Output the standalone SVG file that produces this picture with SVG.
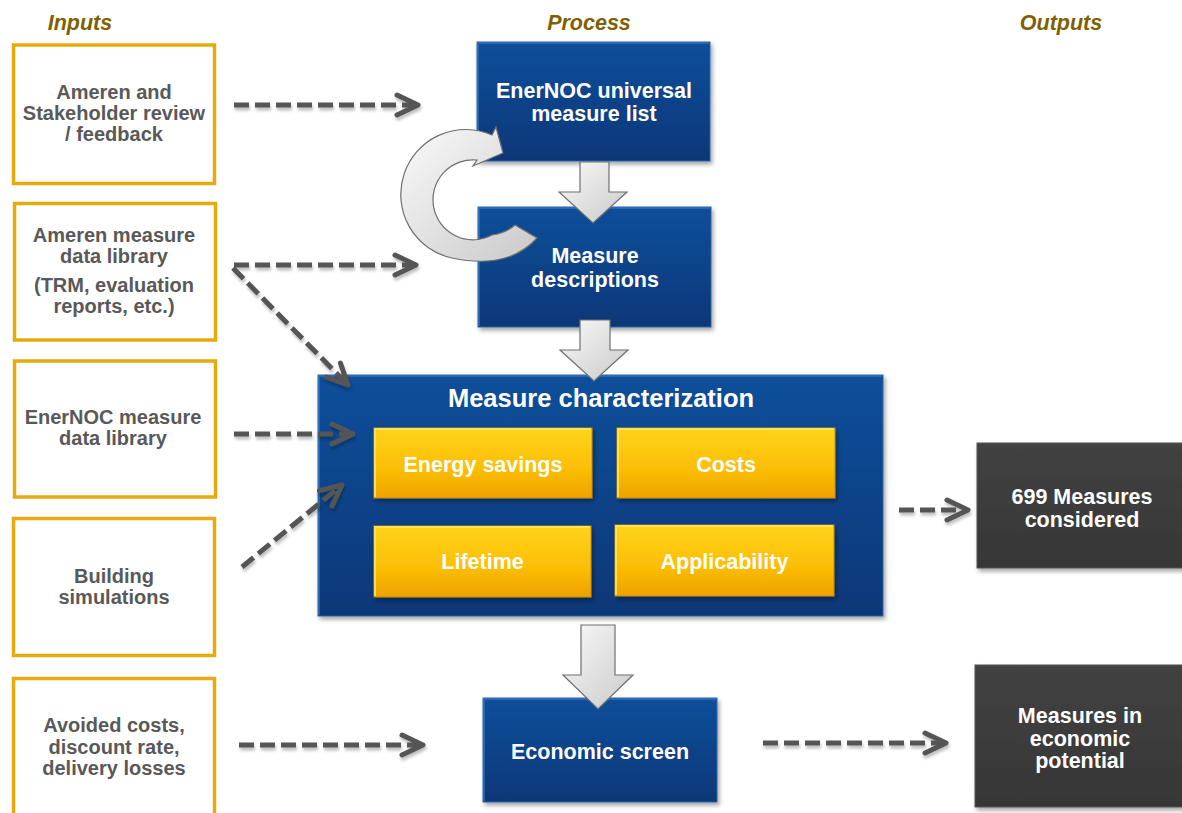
<svg xmlns="http://www.w3.org/2000/svg" width="1182" height="813" viewBox="0 0 1182 813">
<defs>
  <linearGradient id="gBlue" x1="0" y1="0" x2="0" y2="1">
    <stop offset="0" stop-color="#0d4f9b"/>
    <stop offset="1" stop-color="#073777"/>
  </linearGradient>
  <linearGradient id="gGold" x1="0" y1="0" x2="0" y2="1">
    <stop offset="0" stop-color="#ffd41c"/>
    <stop offset="0.6" stop-color="#fbbd05"/>
    <stop offset="1" stop-color="#eea200"/>
  </linearGradient>
  <linearGradient id="gDark" x1="0" y1="0" x2="0" y2="1">
    <stop offset="0" stop-color="#424242"/>
    <stop offset="1" stop-color="#363636"/>
  </linearGradient>
  <linearGradient id="gGray" x1="0" y1="0" x2="1" y2="1">
    <stop offset="0" stop-color="#fafafa"/>
    <stop offset="1" stop-color="#c9c9c9"/>
  </linearGradient>
  <filter id="shadow" x="-10%" y="-10%" width="125%" height="130%">
    <feDropShadow dx="2" dy="3" stdDeviation="2" flood-color="#000" flood-opacity="0.35"/>
  </filter>
  <filter id="lshadow" filterUnits="userSpaceOnUse" x="0" y="0" width="1182" height="813">
    <feDropShadow dx="1" dy="3" stdDeviation="1.5" flood-color="#000" flood-opacity="0.25"/>
  </filter>
  <marker id="chev" markerUnits="userSpaceOnUse" viewBox="-26 -14 30 28" markerWidth="30" markerHeight="28" refX="0" refY="0" orient="auto" overflow="visible">
    <path d="M-21,-10 L0,0 L-21,10" fill="none" stroke="#555555" stroke-width="5" stroke-linecap="round" stroke-linejoin="round"/>
  </marker>
  <style>
    .title{font-family:"Liberation Sans",Arial,sans-serif;font-weight:bold;font-style:italic;font-size:21.5px;fill:#7f6000;text-anchor:middle}
    .inbox{fill:#ffffff;stroke:#e6aa0e;stroke-width:3.5}
    .intext{font-family:"Liberation Sans",Arial,sans-serif;font-weight:bold;font-size:20px;fill:#595959;text-anchor:middle}
    .blue{fill:url(#gBlue);stroke:#2a64aa;stroke-width:1;filter:url(#shadow)}
    .gold{fill:url(#gGold);stroke:#c88f00;stroke-width:1;filter:url(#shadow)}
    .dark{fill:url(#gDark);stroke:#555555;stroke-width:1;filter:url(#shadow)}
    .wtext{font-family:"Liberation Sans",Arial,sans-serif;font-weight:bold;font-size:21.5px;fill:#ffffff;text-anchor:middle}
    .bevelB{fill:none;stroke:#3a78c0;stroke-width:2;opacity:0.6}
    .bevelG{fill:none;stroke:#ffe866;stroke-width:2;opacity:0.8}
    .dash{fill:none;stroke:#555555;stroke-width:5;stroke-dasharray:15 6;marker-end:url(#chev)}
    .block{fill:url(#gGray);stroke:#6f6f6f;stroke-width:1.2;stroke-linejoin:miter}
  </style>
</defs>
<rect x="0" y="0" width="1182" height="813" fill="#ffffff"/>

<g id="titles">
  <text class="title" x="80" y="30">Inputs</text>
  <text class="title" x="589" y="30">Process</text>
  <text class="title" x="1061" y="30">Outputs</text>
</g>

<g id="in1">
  <rect class="inbox" x="13.5" y="45" width="201" height="138.5"/>
  <text class="intext" x="114" y="98.7">Ameren and</text>
  <text class="intext" x="114" y="119.5">Stakeholder review</text>
  <text class="intext" x="114" y="141">/ feedback</text>
</g>
<g id="in2">
  <rect class="inbox" x="14.5" y="203.5" width="201" height="136.5"/>
  <text class="intext" x="114" y="241.7">Ameren measure</text>
  <text class="intext" x="114" y="262.7">data library</text>
  <text class="intext" x="114" y="292">(TRM, evaluation</text>
  <text class="intext" x="114" y="313">reports, etc.)</text>
</g>
<g id="in3">
  <rect class="inbox" x="14.5" y="361" width="201" height="136"/>
  <text class="intext" x="113" y="424">EnerNOC measure</text>
  <text class="intext" x="113" y="445">data library</text>
</g>
<g id="in4">
  <rect class="inbox" x="13.5" y="518.5" width="201" height="137"/>
  <text class="intext" x="114" y="583">Building</text>
  <text class="intext" x="114" y="604">simulations</text>
</g>
<g id="in5">
  <rect class="inbox" x="13.5" y="678.5" width="201" height="150"/>
  <text class="intext" x="114" y="732">Avoided costs,</text>
  <text class="intext" x="114" y="753.5">discount rate,</text>
  <text class="intext" x="114" y="775">delivery losses</text>
</g>

<g id="p_list">
  <rect class="blue" x="477" y="42" width="233" height="119"/>
  <path class="bevelB" d="M478,160 L478,43 L709,43"/>
  <text class="wtext" x="594" y="98.3">EnerNOC universal</text>
  <text class="wtext" x="594" y="120.7">measure list</text>
</g>
<g id="p_desc">
  <rect class="blue" x="478" y="207" width="233" height="120"/>
  <path class="bevelB" d="M479,326 L479,208 L710,208"/>
  <text class="wtext" x="595" y="263.3">Measure</text>
  <text class="wtext" x="595" y="286.5">descriptions</text>
</g>
<g id="p_char">
  <rect class="blue" x="318" y="375" width="565" height="241"/>
  <path class="bevelB" d="M319,615 L319,376 L882,376"/>
  <text class="wtext" x="601" y="406.7" style="font-size:25.5px">Measure characterization</text>
  <g id="c_energy">
    <rect class="gold" x="374" y="428" width="218" height="70"/>
    <path class="bevelG" d="M375,497 L375,429 L591,429"/>
    <text class="wtext" x="483" y="471.7">Energy savings</text>
  </g>
  <g id="c_costs">
    <rect class="gold" x="617" y="428" width="218" height="70"/>
    <path class="bevelG" d="M618,497 L618,429 L834,429"/>
    <text class="wtext" x="726" y="471.7">Costs</text>
  </g>
  <g id="c_life">
    <rect class="gold" x="374" y="526" width="217" height="71"/>
    <path class="bevelG" d="M375,596 L375,527 L590,527"/>
    <text class="wtext" x="482.5" y="569.3">Lifetime</text>
  </g>
  <g id="c_appl">
    <rect class="gold" x="615" y="525" width="219" height="71"/>
    <path class="bevelG" d="M616,595 L616,526 L833,526"/>
    <text class="wtext" x="724.5" y="569">Applicability</text>
  </g>
</g>
<g id="p_econ">
  <rect class="blue" x="483" y="698" width="234" height="104"/>
  <path class="bevelB" d="M484,801 L484,699 L716,699"/>
  <text class="wtext" x="600" y="759.3">Economic screen</text>
</g>

<g id="o_considered">
  <rect class="dark" x="977" y="443" width="215" height="125"/>
  <text class="wtext" x="1082" y="503.5">699 Measures</text>
  <text class="wtext" x="1082" y="526.5">considered</text>
</g>
<g id="o_econ">
  <rect class="dark" x="975" y="665" width="215" height="142"/>
  <text class="wtext" x="1080" y="722.7">Measures in</text>
  <text class="wtext" x="1080" y="746">economic</text>
  <text class="wtext" x="1080" y="768.3">potential</text>
</g>

<g id="connectors">
  <g filter="url(#lshadow)">
    <line class="dash" x1="234" y1="105" x2="418" y2="105"/>
    <line class="dash" x1="234" y1="265" x2="416" y2="265"/>
    <line class="dash" x1="233" y1="268" x2="348" y2="385"/>
    <line class="dash" x1="234" y1="434" x2="353" y2="434"/>
    <line class="dash" x1="242" y1="567" x2="342" y2="485"/>
    <line class="dash" x1="899" y1="510" x2="968" y2="510"/>
    <line class="dash" x1="239" y1="745" x2="423" y2="745"/>
    <line class="dash" x1="763" y1="743" x2="946" y2="743"/>
  </g>

  <path class="block" d="M580,162 L609,162 L609,192 L627,192 L593,223 L559,192 L580,192 Z"/>
  <path class="block" d="M580,320 L610,320 L610,350 L628,350 L594,381 L560,350 L580,350 Z"/>
  <path class="block" d="M581,625 L615,625 L615,675 L633,675 L598,709 L563,675 L581,675 Z"/>

  <path class="block" d="M537,238 Q508,270 452,258 A65,65 0 1 1 492,135 L496,127 L503,153 L473,166 L477,160 A40,40 0 1 0 492,235 Q506,233 515,225 Z" stroke-linejoin="round"/>
</g>
</svg>
